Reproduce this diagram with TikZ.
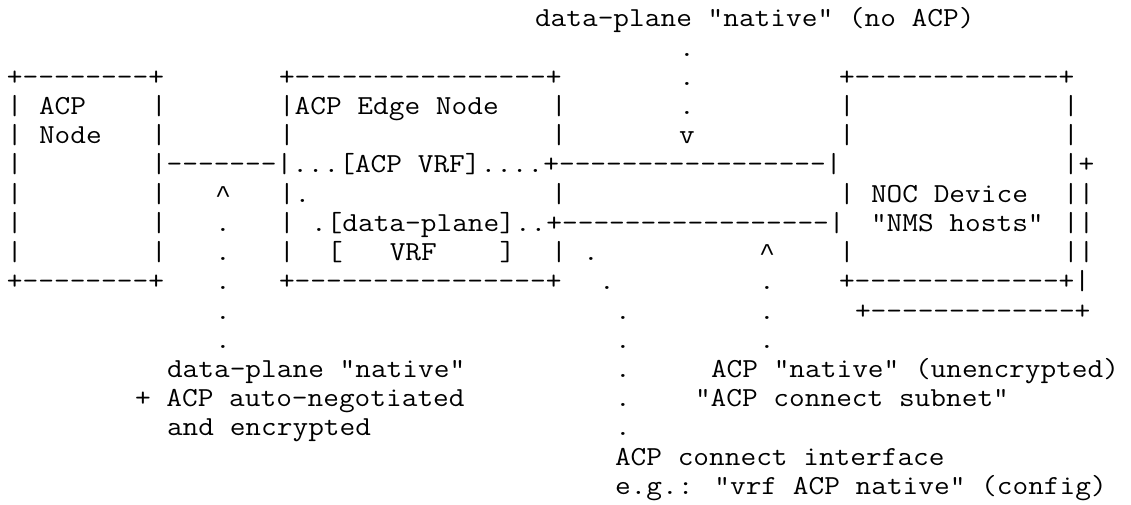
\documentclass[tikz,border=0pt]{standalone}
\usepackage{graphicx}
\usepackage{fontspec}
\newfontfamily\caretfont{Liberation Mono}
\tikzset{txt/.style={inner sep=0pt, outer sep=0pt, anchor=base west,
  font=\fontsize{27.5}{30}\selectfont\ttfamily}}
\newcommand\tx[4]{\node[txt] (#1) at ({7+16*#3},{504-(27+29.2*#2)}) {\scalebox{1.1082}[1]{#4}};}
\newcommand\dd[1]{\foreach\k in {1,...,#1}{-\kern0pt}}
\newcommand\caret{{\caretfont\fontsize{24.07}{28}\selectfont\textasciicircum}}
\begin{document}
\begin{tikzpicture}[x=1pt,y=1pt]
\useasboundingbox (0,0) rectangle (1131,504);
% row 0
\tx{r0}{0}{33}{data-plane "native" (no ACP)}
% row 1
\tx{r1}{1}{42}{.}
% row 2
\tx{r2a}{2}{0}{+\dd{8}+}
\tx{r2b}{2}{17}{+\dd{16}+}
\tx{r2c}{2}{42}{.}
\tx{r2d}{2}{52}{+\dd{13}+}
% row 3
\tx{r3a}{3}{0}{|}
\tx{r3b}{3}{2}{ACP}
\tx{r3c}{3}{9}{|}
\tx{r3d}{3}{17}{|ACP Edge Node}
\tx{r3e}{3}{34}{|}
\tx{r3f}{3}{42}{.}
\tx{r3g}{3}{52}{|}
\tx{r3h}{3}{66}{|}
% row 4
\tx{r4a}{4}{0}{|}
\tx{r4b}{4}{2}{Node}
\tx{r4c}{4}{9}{|}
\tx{r4d}{4}{17}{|}
\tx{r4e}{4}{34}{|}
\tx{r4f}{4}{42}{v}
\tx{r4g}{4}{52}{|}
\tx{r4h}{4}{66}{|}
% row 5
\tx{r5a}{5}{0}{|}
\tx{r5b}{5}{9}{|\dd{7}|...[ACP VRF]....+\dd{17}|}
\tx{r5c}{5}{66}{|+}
% row 6
\tx{r6a}{6}{0}{|}
\tx{r6b}{6}{9}{|}
\tx{r6c}{6}{13}{\caret}
\tx{r6d}{6}{17}{|.}
\tx{r6e}{6}{34}{|}
\tx{r6f}{6}{52}{|}
\tx{r6g}{6}{54}{NOC Device}
\tx{r6h}{6}{66}{||}
% row 7
\tx{r7a}{7}{0}{|}
\tx{r7b}{7}{9}{|}
\tx{r7c}{7}{13}{.}
\tx{r7d}{7}{17}{|}
\tx{r7e}{7}{19}{.[data-plane]..+\dd{17}|}
\tx{r7f}{7}{54}{"NMS hosts"}
\tx{r7g}{7}{66}{||}
% row 8
\tx{r8a}{8}{0}{|}
\tx{r8b}{8}{9}{|}
\tx{r8c}{8}{13}{.}
\tx{r8d}{8}{17}{|}
\tx{r8e}{8}{20}{[~~~VRF~~~~]}
\tx{r8f}{8}{34}{|}
\tx{r8g}{8}{36}{.}
\tx{r8h}{8}{47}{\caret}
\tx{r8i}{8}{52}{|}
\tx{r8j}{8}{66}{||}
% row 9
\tx{r9a}{9}{0}{+\dd{8}+}
\tx{r9b}{9}{13}{.}
\tx{r9c}{9}{17}{+\dd{16}+}
\tx{r9d}{9}{37}{.}
\tx{r9e}{9}{47}{.}
\tx{r9f}{9}{52}{+\dd{13}+|}
% row 10
\tx{r10a}{10}{13}{.}
\tx{r10b}{10}{38}{.}
\tx{r10c}{10}{47}{.}
\tx{r10d}{10}{53}{+\dd{13}+}
% row 11
\tx{r11a}{11}{13}{.}
\tx{r11b}{11}{38}{.}
\tx{r11c}{11}{47}{.}
% row 12
\tx{r12a}{12}{10}{data-plane "native"}
\tx{r12b}{12}{38}{.}
\tx{r12c}{12}{44}{ACP "native" (unencrypted)}
% row 13
\tx{r13a}{13}{8}{+ ACP auto-negotiated}
\tx{r13b}{13}{38}{.}
\tx{r13c}{13}{43}{"ACP connect subnet"}
% row 14
\tx{r14a}{14}{10}{and encrypted}
\tx{r14b}{14}{38}{.}
% row 15
\tx{r15}{15}{38}{ACP connect interface}
% row 16
\tx{r16}{16}{38}{e.g.: "vrf ACP native" (config)}
\end{tikzpicture}
\end{document}
